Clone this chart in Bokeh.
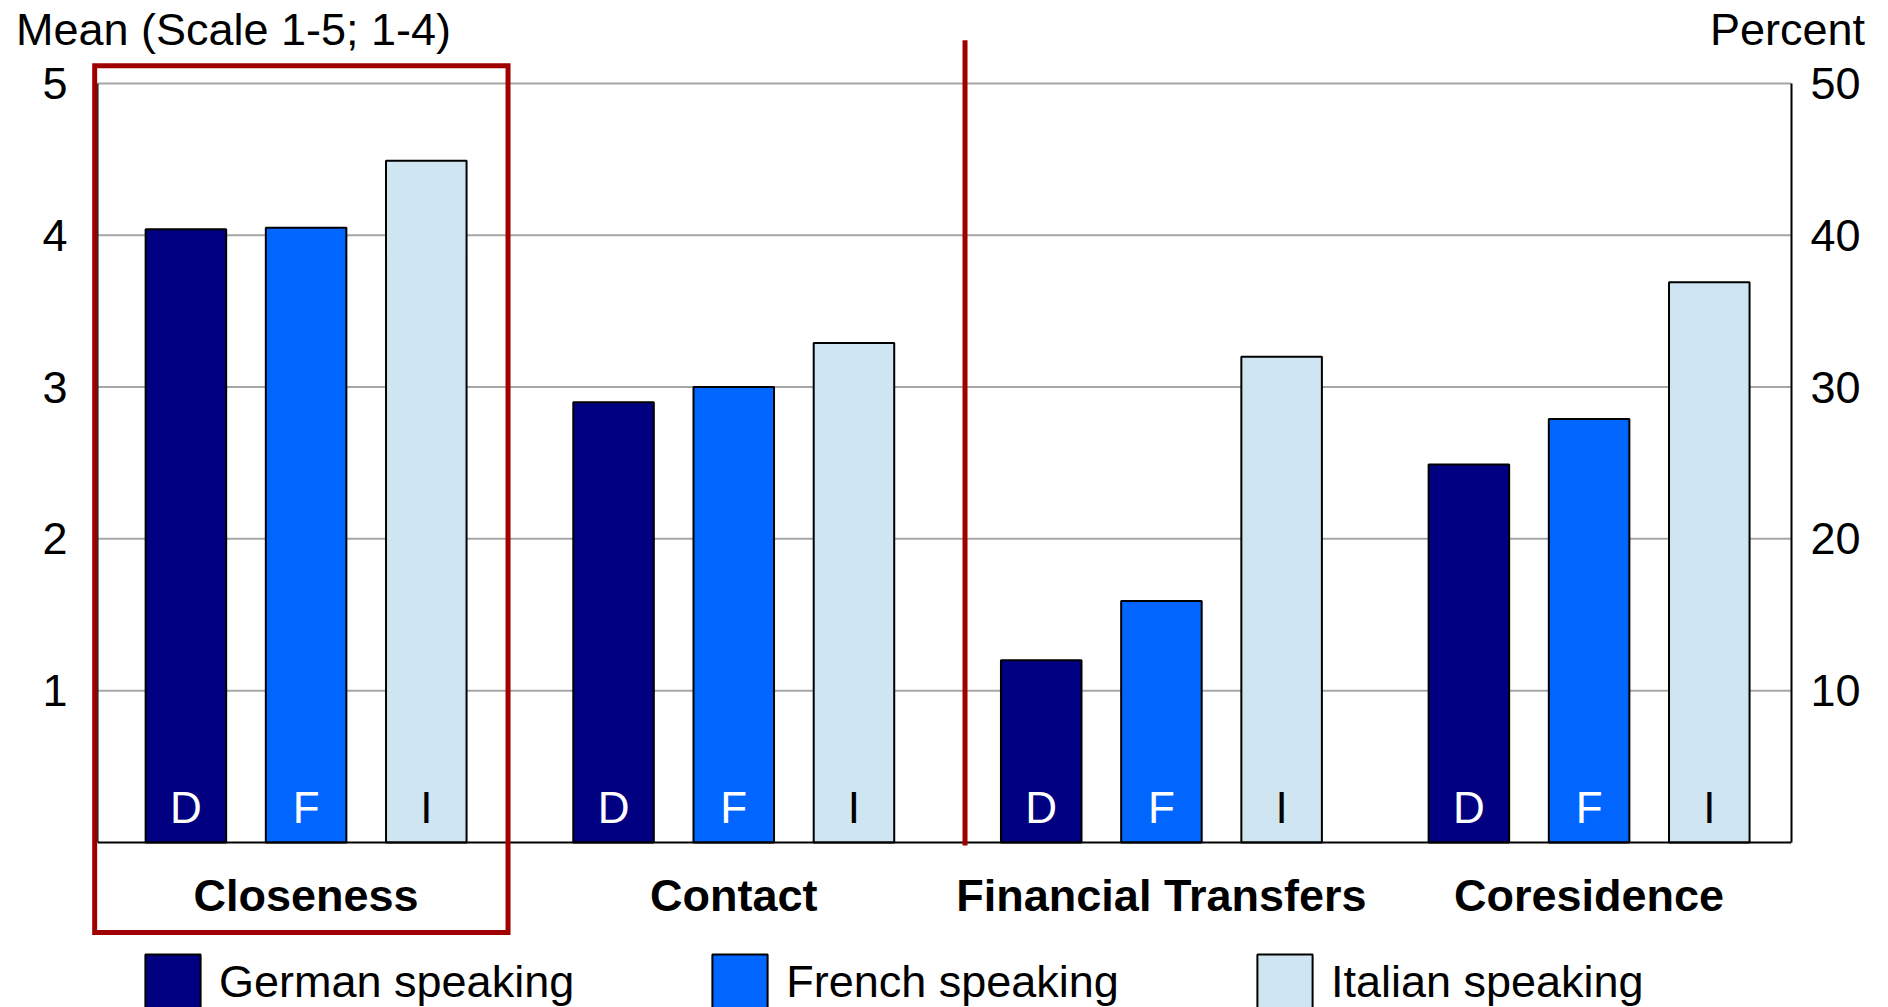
from bokeh.plotting import figure
from bokeh.models import Range1d, LinearAxis, FixedTicker, Legend, LegendItem
from bokeh.core.properties import value
from bokeh.embed import file_html
from bokeh.resources import INLINE

# ---- data ----
categories = ["Closeness", "Contact", "Financial Transfers", "Coresidence"]
regions = ["German speaking", "French speaking", "Italian speaking"]
region_codes = ["D", "F", "I"]
# means (left scale)
closeness = [4.04, 4.05, 4.49]
contact = [2.90, 3.00, 3.29]
# percent (right scale)
financial_transfers = [12.0, 15.9, 32.0]
coresidence = [24.9, 27.9, 36.9]
mean_ticks = [1, 2, 3, 4, 5]
percent_ticks = [10, 20, 30, 40, 50]
scale_titles = ["Mean (Scale 1-5; 1-4)", "Percent"]

# ---- styling ----
FONT = "Liberation Sans"
BAR_COLORS = ["#000080", "#0066FF", "#CFE5F2"]
CODE_COLORS = ["white", "white", "black"]
RED = "#A00000"
GRID = "#A6A6A6"

W, H = 1888, 1007
GROUP_STEP = 3.558          # distance between group centres, in bar steps
BAR_W = 0.67
X_START, X_END = -1.802, 12.358
Y_START, Y_END = -1.087, 5.296
PCT = 10.0                  # percent units per mean unit
PLOT_LEFT = -1.733          # left edge of the plotting area
TITLE_X = [-0.604, 12.325]  # centres of the two scale titles

group_x = [g * GROUP_STEP for g in range(len(categories))]

p = figure(width=W, height=H,
           x_range=Range1d(X_START, X_END), y_range=Range1d(Y_START, Y_END),
           x_axis_location=None, output_backend="svg", toolbar_location=None,
           min_border_left=89, min_border_right=97, min_border_top=38, min_border_bottom=0)
p.outline_line_color = None
p.background_fill_color = "white"
p.border_fill_color = "white"
p.xgrid.visible = False
p.ygrid.visible = False
p.extra_y_ranges = {"pct": Range1d(Y_START * PCT, Y_END * PCT)}

# left axis (means)
la = p.yaxis[0]
la.ticker = FixedTicker(ticks=mean_ticks)
la.axis_line_color = None
la.major_tick_line_color = None
la.minor_tick_line_color = None
la.major_label_standoff = 16
la.major_label_text_font = FONT
la.major_label_text_font_size = "45px"
la.major_label_text_color = "black"

# right axis (percent)
ra = LinearAxis(y_range_name="pct", ticker=FixedTicker(ticks=percent_ticks), bounds=(0, 50))
ra.axis_line_color = "black"
ra.axis_line_width = 2
ra.major_tick_line_color = None
ra.minor_tick_line_color = None
ra.major_label_standoff = 13
ra.major_label_text_font = FONT
ra.major_label_text_font_size = "45px"
ra.major_label_text_color = "black"
p.add_layout(ra, "right")

# scale titles along the top edge
ta = LinearAxis(ticker=FixedTicker(ticks=TITLE_X),
                major_label_overrides=dict(zip(TITLE_X, scale_titles)))
ta.axis_line_color = None
ta.major_tick_line_color = None
ta.minor_tick_line_color = None
ta.major_tick_out = 0
ta.major_tick_in = 0
ta.major_label_standoff = -16
ta.major_label_text_font = FONT
ta.major_label_text_font_size = "45px"
ta.major_label_text_color = "black"
p.add_layout(ta, "above")

# horizontal grid lines
n = len(mean_ticks)
p.segment(x0=[PLOT_LEFT] * n, x1=[X_END] * n, y0=mean_ticks, y1=mean_ticks,
          line_color=GRID, line_width=2)

# bars
mean_sets = [closeness, contact]
pct_sets = [financial_transfers, coresidence]
legend_items = []
for s, region in enumerate(regions):
    xs_m = [group_x[g] + (s - 1) for g in range(2)]
    xs_p = [group_x[g + 2] + (s - 1) for g in range(2)]
    r = p.vbar(x=xs_m, top=[m[s] for m in mean_sets], bottom=0, width=BAR_W,
               fill_color=BAR_COLORS[s], line_color="black", line_width=2)
    p.vbar(x=xs_p, top=[v[s] for v in pct_sets], bottom=0, width=BAR_W,
           fill_color=BAR_COLORS[s], line_color="black", line_width=2, y_range_name="pct")
    legend_items.append(LegendItem(label=region, renderers=[r]))
    xs_all = xs_m + xs_p
    p.text(x=xs_all, y=[0.231] * len(xs_all), text=[region_codes[s]] * len(xs_all),
           text_align="center", text_baseline="alphabetic",
           text_font=value(FONT), text_font_size="44px", text_color=CODE_COLORS[s])

# left border and baseline
p.segment(x0=[PLOT_LEFT], x1=[PLOT_LEFT], y0=[0], y1=[5], line_color="#222222", line_width=1.5)
p.segment(x0=[PLOT_LEFT], x1=[X_END], y0=[0], y1=[0], line_color="black", line_width=2)

# category labels
p.text(x=group_x, y=[-0.347] * len(categories), text=categories,
       text_align="center", text_baseline="alphabetic",
       text_font=value(FONT), text_font_size="45px", text_font_style="bold", text_color="black")

# highlight box around the first group and separator between the two scales
p.quad(left=[group_x[0] - 1.759], right=[group_x[0] + 1.68], top=[5.117], bottom=[-0.593],
       fill_color=None, line_color=RED, line_width=5, line_join="miter")
sep_x = (group_x[1] + group_x[2]) / 2 + 0.145
p.segment(x0=[sep_x], x1=[sep_x], y0=[-0.02], y1=[5.285], line_color=RED, line_width=5)

legend = Legend(items=legend_items, orientation="horizontal", location=(49, -9),
                glyph_width=69, glyph_height=69, label_height=69, label_standoff=12,
                spacing=131, padding=0, margin=0, border_line_color=None,
                background_fill_alpha=0, label_text_font=FONT, label_text_font_size="45px",
                label_text_color="black")
p.add_layout(legend)

open("out.html", "w").write(file_html(p, INLINE))
